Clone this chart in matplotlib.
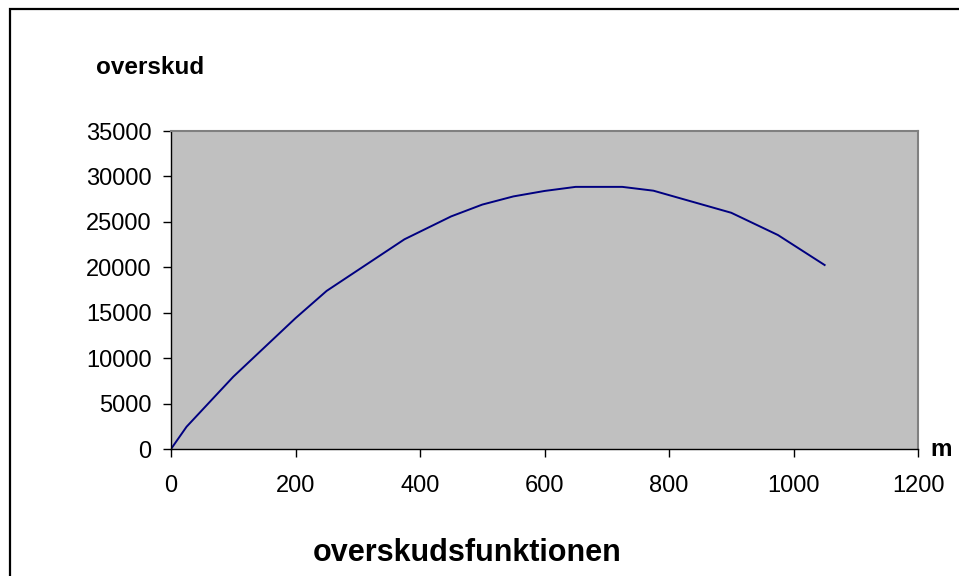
import matplotlib
matplotlib.use("Agg")
import matplotlib.pyplot as plt
from matplotlib.patches import Rectangle

plt.rcParams['font.family'] = ['Liberation Sans', 'DejaVu Sans']

# mængde m og overskud, aflæst fra kurven
m = [0, 25, 100, 200, 250, 375, 450, 500, 550, 600, 650, 725, 775, 900, 975, 1050]
overskud = [0, 2450, 7950, 14400, 17400, 23080, 25600, 26900, 27800, 28400, 28850, 28850, 28430, 26000, 23550, 20250]

x_ticks = [0, 200, 400, 600, 800, 1000, 1200]
y_ticks = [0, 5000, 10000, 15000, 20000, 25000, 30000, 35000]

W, H = 959, 576
fig = plt.figure(figsize=(W / 100, H / 100), dpi=100)
ax = fig.add_axes([171 / W, 1 - 449 / H, (918 - 171) / W, (449 - 131) / H])

ax.set_facecolor('#C0C0C0')
ax.plot(m, overskud, color='#000080', lw=1.4)

ax.set_xlim(0, 1200)
ax.set_ylim(0, 35000)
ax.set_xticks(x_ticks)
ax.set_yticks(y_ticks)
ax.tick_params(direction='out', length=6, width=1, colors='black', labelsize=17)
ax.tick_params(axis='y', pad=8)
ax.tick_params(axis='x', pad=13)

for side in ['top', 'right']:
    ax.spines[side].set_color('#808080')
    ax.spines[side].set_linewidth(1.5)
for side in ['left', 'bottom']:
    ax.spines[side].set_color('black')
    ax.spines[side].set_linewidth(1)

fig.text(96 / W, 1 - 68 / H, 'overskud', fontsize=17.5, fontweight='bold', va='center', ha='left')
fig.text(930 / W, 1 - 450 / H, 'm', fontsize=17.5, fontweight='bold', va='center', ha='left')
fig.text(467 / W, 1 - 553 / H, 'overskudsfunktionen', fontsize=22, fontweight='bold', va='center', ha='center')

# ramme om hele diagrammet (kun venstre og top er synlige)
fig.patches.append(Rectangle((10 / W, -0.1), 1.2, 1 - 9 / H + 0.1, transform=fig.transFigure,
                             fill=False, edgecolor='black', lw=1.6))

fig.savefig('out.png', dpi=100)
